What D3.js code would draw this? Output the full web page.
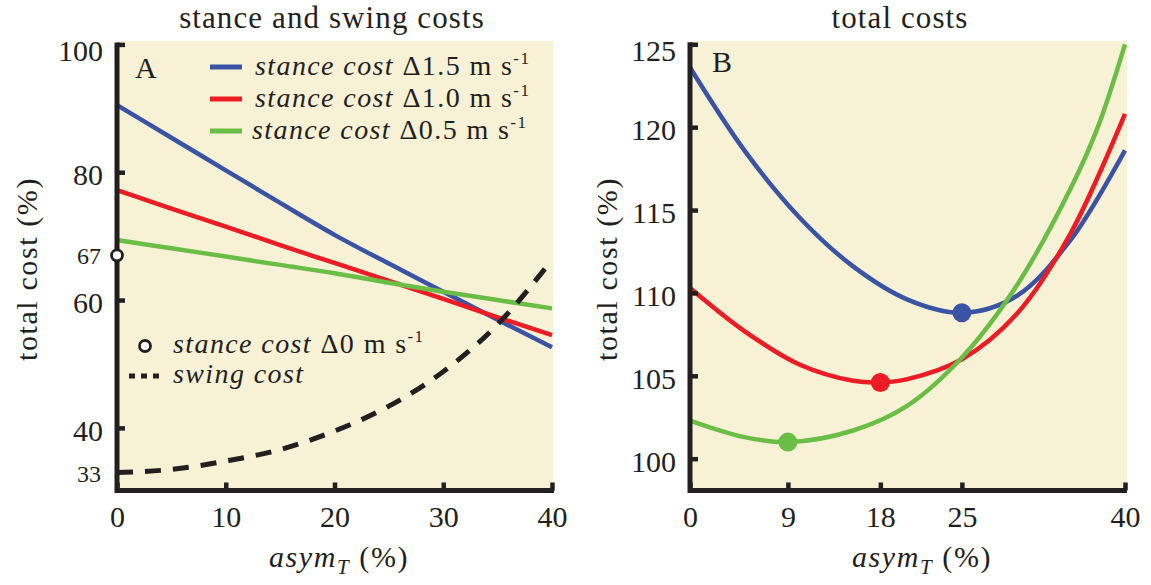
<!DOCTYPE html>
<html><head><meta charset="utf-8">
<script src="https://cdn.jsdelivr.net/npm/d3@7"></script>
<style>
html,body{margin:0;padding:0;background:#fff;}
svg{display:block;}
text{font-family:"Liberation Serif","Times New Roman",serif;fill:#231f20;white-space:pre;}
</style></head><body>
<svg id="chart" width="1151" height="585" font-family="Liberation Serif, serif"></svg>
<script>
// ---------- data ----------
const asymA      = [0, 5, 10, 15, 20, 25, 30, 35, 40];
const stance15   = [90.5, 85.4, 80.3, 75.2, 70.2, 65.7, 61.3, 56.9, 52.6];
const stance10   = [77.2, 74.3, 71.5, 68.6, 65.8, 63.0, 60.2, 57.3, 54.5];
const stance05   = [69.4, 68.1, 66.8, 65.5, 64.2, 62.7, 61.3, 60.0, 58.7];
const swingCost  = [33.0, 33.5, 34.8, 36.6, 39.5, 43.4, 48.8, 56.2, 66.3];
const stance0    = 67;

const asymBlue   = [0, 5, 10, 15, 20, 25, 30, 35, 40];
const total15    = [123.6, 118.6, 114.6, 111.6, 109.6, 108.8, 109.8, 113.2, 118.6];
const asymRed    = [0, 5, 10, 15, 17.5, 20, 25, 30, 35, 40];
const total10    = [110.3, 107.7, 105.7, 104.7, 104.6, 104.8, 106.0, 108.7, 113.6, 120.8];
const asymGreen  = [0, 5, 9, 15, 20, 25, 30, 35, 37.5, 40];
const total05    = [102.3, 101.3, 101.0, 101.7, 103.2, 106.1, 110.4, 116.3, 120.0, 125.0];
const optimaAsym = [25, 17.5, 9];
const optimaCost = [108.8, 104.6, 101.0];

const xTicksA      = [0, 10, 20, 30, 40];
const yTicksA      = [100, 80, 60, 40];
const ySmallTicksA = [67, 33];
const xTicksB      = [0, 9, 17.5, 25, 40];
const xTickLabelsB = ["0", "9", "18", "25", "40"];
const yTicksB      = [100, 105, 110, 115, 120, 125];
const speeds       = ["1.5", "1.0", "0.5"];
const colors       = ["#3a53a4", "#ed1c24", "#6abd45"];

// ---------- setup ----------
const svg = d3.select("#chart");
const INK = "#231f20", BG = "#f7f1d6";

const xA = d3.scaleLinear().domain([0, 40]).range([117, 552]);
const yA = d3.scaleLinear().domain([30.2, 100]).range([490.5, 44.4]);
const xB = d3.scaleLinear().domain([0, 40]).range([690, 1125]);
const yB = d3.scaleLinear().domain([98.08, 125]).range([490.5, 44.3]);

function panel(x, y, bgRight) {
  const g = svg.append("g");
  g.append("rect").attr("x", x(0)).attr("y", 41)
    .attr("width", bgRight - x(0)).attr("height", y.range()[0] - 41).attr("fill", BG);
  return g;
}

function axes(g, x, y, xt, xtl, yt, topVal) {
  const ax = g.append("g").attr("transform", `translate(0,${y.range()[0]})`)
    .call(d3.axisBottom(x).tickValues(xt).tickFormat((d, i) => xtl[i])
      .tickSizeInner(-8).tickSizeOuter(0).tickPadding(15));
  const ay = g.append("g").attr("transform", `translate(${x(0)},0)`)
    .call(d3.axisLeft(y).tickValues(yt).tickSizeInner(-8).tickSizeOuter(0).tickPadding(14));
  [ax, ay].forEach(a => {
    a.attr("font-family", null).attr("font-size", null);
    a.select(".domain").remove();
    a.selectAll(".tick line").attr("stroke", INK).attr("stroke-width", 4.5);
    a.selectAll(".tick text").attr("font-size", 30).attr("fill", INK);
  });
  ay.selectAll(".tick text").attr("dy", d => d === topVal ? "0.55em" : "0.42em");
  g.append("path")
    .attr("d", `M${x(0)},${y(topVal) - 2} V${y.range()[0]} H${x(40) + 2}`)
    .attr("fill", "none").attr("stroke", INK).attr("stroke-width", 5)
    .attr("stroke-linejoin", "miter");
}

function legendText(g, x, y, speed) {
  const t = g.append("text").attr("x", x).attr("y", y)
    .attr("font-size", 28).attr("letter-spacing", 1.4);
  t.append("tspan").attr("font-style", "italic").text("stance cost");
  t.append("tspan").text(" Δ" + speed + " m s");
  t.append("tspan").attr("font-size", 17).attr("dy", -11).text("-1");
}

// ---------- Panel A ----------
const gA = panel(xA, yA, 553);
const line = (x, y) => d3.line().x(d => x(d[0])).y(d => y(d[1])).curve(d3.curveMonotoneX);

[stance15, stance10, stance05].forEach((s, i) => {
  gA.append("path").datum(asymA.map((a, j) => [a, s[j]]))
    .attr("d", line(xA, yA)).attr("fill", "none")
    .attr("stroke", colors[i]).attr("stroke-width", 4.5);
});
gA.append("path").datum(asymA.map((a, j) => [a, swingCost[j]]))
  .attr("d", line(xA, yA)).attr("fill", "none")
  .attr("stroke", INK).attr("stroke-width", 5).attr("stroke-dasharray", "16,12");

axes(gA, xA, yA, xTicksA, xTicksA.map(String), yTicksA, 100);
ySmallTicksA.forEach(v => {
  gA.append("text").attr("x", xA(0) - 16).attr("y", yA(v)).attr("dy", "0.38em")
    .attr("text-anchor", "end").attr("font-size", 24).text(v);
});
gA.append("circle").attr("cx", xA(0)).attr("cy", yA(stance0)).attr("r", 5.5)
  .attr("fill", "#fff").attr("stroke", INK).attr("stroke-width", 2.8);

const legY = [67, 99, 131];
speeds.forEach((s, i) => {
  gA.append("line").attr("x1", 210).attr("x2", 242).attr("y1", legY[i]).attr("y2", legY[i])
    .attr("stroke", colors[i]).attr("stroke-width", 5);
  legendText(gA, i === 2 ? 252 : 255, legY[i] + 8, s);
});
gA.append("circle").attr("cx", 145).attr("cy", 346).attr("r", 5.5)
  .attr("fill", "#fff").attr("stroke", INK).attr("stroke-width", 2.8);
legendText(gA, 173, 353, "0");
gA.append("line").attr("x1", 129).attr("x2", 161).attr("y1", 376).attr("y2", 376)
  .attr("stroke", INK).attr("stroke-width", 5).attr("stroke-dasharray", "6,6");
gA.append("text").attr("x", 173).attr("y", 383).attr("font-size", 28)
  .attr("letter-spacing", 1.4).attr("font-style", "italic").text("swing cost");

gA.append("text").attr("x", 135).attr("y", 78).attr("font-size", 30).text("A");

// ---------- Panel B ----------
const gB = panel(xB, yB, 1127);
[[asymBlue, total15], [asymRed, total10], [asymGreen, total05]].forEach(([xs, ys], i) => {
  gB.append("path").datum(xs.map((a, j) => [a, ys[j]]))
    .attr("d", d3.line().x(d => xB(d[0])).y(d => yB(d[1])).curve(d3.curveCatmullRom.alpha(0.5)))
    .attr("fill", "none").attr("stroke", colors[i]).attr("stroke-width", 4.5);
});
axes(gB, xB, yB, xTicksB, xTickLabelsB, yTicksB, 125);
optimaAsym.forEach((a, i) => {
  gB.append("circle").attr("cx", xB(a)).attr("cy", yB(optimaCost[i])).attr("r", 9.5)
    .attr("fill", colors[i]);
});
gB.append("text").attr("x", 712).attr("y", 72).attr("font-size", 30).text("B");

// ---------- titles and axis labels ----------
function title(x, txt) {
  svg.append("text").attr("x", x).attr("y", 28).attr("text-anchor", "middle")
    .attr("font-size", 31).attr("letter-spacing", 1.1).text(txt);
}
title(332, "stance and swing costs");
title(900, "total costs");

function yLabel(x) {
  svg.append("text").attr("transform", `translate(${x},269) rotate(-90)`)
    .attr("text-anchor", "middle").attr("font-size", 30).attr("letter-spacing", 1.6)
    .text("total cost (%)");
}
yLabel(37); yLabel(617);

function xLabel(cx) {
  const t = svg.append("text").attr("x", cx).attr("y", 567).attr("text-anchor", "middle")
    .attr("font-size", 30).attr("letter-spacing", 1.6);
  t.append("tspan").attr("font-style", "italic").text("asym");
  t.append("tspan").attr("font-style", "italic").attr("font-size", 21).attr("dy", 7).text("T");
  t.append("tspan").attr("dy", -7).text(" (%)");
}
xLabel(339); xLabel(922);
</script>
</body></html>
